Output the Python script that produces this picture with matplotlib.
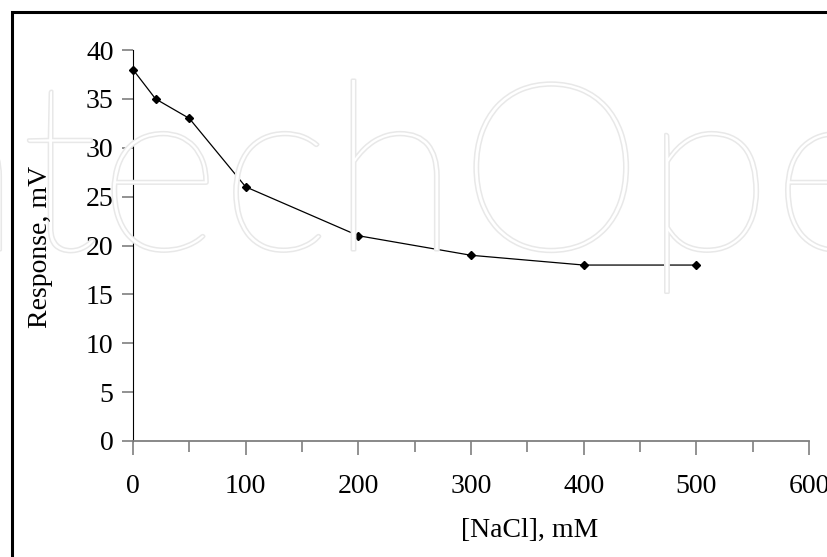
import matplotlib.pyplot as plt
from matplotlib.patches import Rectangle
import matplotlib.patheffects as pe

# dados
nacl = [0, 20, 50, 100, 200, 300, 400, 500]
resposta = [38, 35, 33, 26, 21, 19, 18, 18]
xticks = [0, 100, 200, 300, 400, 500, 600]
yticks = [0, 5, 10, 15, 20, 25, 30, 35, 40]

plt.rcParams['font.family'] = ['Liberation Serif', 'DejaVu Serif']

W, H = 827, 557
fig = plt.figure(figsize=(W / 100, H / 100), dpi=100)

# marca de agua (contorno claro)
fig.text(-165 / W, 1 - 250 / H, "IntechOpen", transform=fig.transFigure, fontsize=170,
         family='Lato', fontweight='light', color='white', ha='left', va='baseline',
         path_effects=[pe.withStroke(linewidth=2.2, foreground='#e8e8e8')], zorder=0)

# moldura
fig.patches.append(Rectangle((12 / W, -0.1), 1.2, (H - 12) / H + 0.1, transform=fig.transFigure,
                             fill=False, edgecolor='black', linewidth=2.2, clip_on=False))

ax = fig.add_axes([133 / W, 1 - 441 / H, (809 - 133) / W, (441 - 50) / H])
ax.patch.set_alpha(0)
ax.plot(nacl, resposta, color='black', linewidth=0.9, marker='D', markersize=4, clip_on=False)

ax.set_xlim(0, 600)
ax.set_ylim(0, 40)
ax.set_xticks(xticks)
ax.set_xticks(range(50, 600, 100), minor=True)
ax.set_yticks(yticks)

ax.spines['top'].set_visible(False)
ax.spines['right'].set_visible(False)
ax.spines['left'].set_color('black')
ax.spines['bottom'].set_color('#7f7f7f')
ax.spines['bottom'].set_linewidth(1.3)
ax.tick_params(axis='x', which='major', length=10, color='#7f7f7f', width=1.2, labelsize=20, pad=14)
ax.tick_params(axis='x', which='minor', length=8, color='#7f7f7f', width=1.2)
ax.tick_params(axis='y', length=8, color='#7f7f7f', width=1.2, labelsize=20, pad=6)

fig.text(530 / W, 1 - 530 / H, "[NaCl], mM", fontsize=20, ha='center', va='center')
fig.text(41 / W, 1 - 247 / H, "Response, mV", fontsize=20, ha='center', va='center', rotation=90)

fig.savefig("out.png", dpi=100)
